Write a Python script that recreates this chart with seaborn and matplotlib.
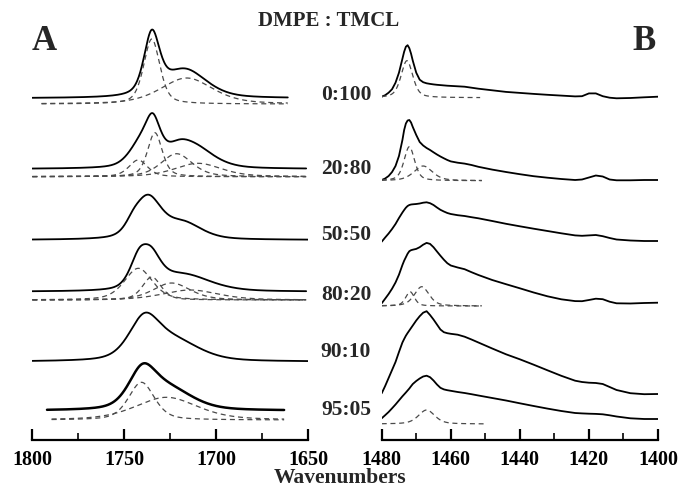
import numpy as np
import pandas as pd
import seaborn as sns
import matplotlib
matplotlib.use("Agg")
import matplotlib.pyplot as plt
from matplotlib.ticker import MultipleLocator

# sample ratios (DMPE : TMCL)
ratios = ["0:100", "20:80", "50:50", "80:20", "90:10", "95:05"]

# panel A (C=O stretch): bands as (centre cm-1, height, half width)
a_bands = {
    "0:100": [(1735, 59, 5), (1717, 28, 14)],
    "20:80": [(1734.5, 40, 5), (1742, 20, 7), (1720, 19, 10), (1709, 14, 12)],
    "50:50": [(1737, 40, 8.5), (1745, 8, 5), (1718, 16, 12)],
    "80:20": [(1742, 28, 6), (1735, 27, 6.5), (1722, 8, 12), (1712, 10, 16)],
    "90:10": [(1739, 40, 10), (1722, 19, 16)],
    "95:05": [(1740, 37, 9), (1725, 20, 15)],
}
a_range = {"0:100": (1800, 1661), "20:80": (1800, 1651), "50:50": (1800, 1650),
           "80:20": (1800, 1651), "90:10": (1800, 1650), "95:05": (1792, 1663)}
a_offset = {"0:100": 341.7, "20:80": 271, "50:50": 200,
            "80:20": 148.3, "90:10": 78.3, "95:05": 29.3}

# fitted components (dashed)
a_fit = {
    "0:100": [(1735, 65, 5.2), (1716, 26, 16.7)],
    "20:80": [(1733.3, 44, 4.7), (1742.4, 16.7, 6), (1721.5, 23, 10), (1709.8, 13.4, 15)],
    "80:20": [(1742.3, 31.7, 9), (1735, 23, 6), (1724.2, 17, 12), (1714, 10, 18)],
    "95:05": [(1740.6, 37.7, 8.3), (1727, 22.7, 20)],
}
a_fit_range = {"0:100": (1795, 1661), "20:80": (1800, 1651),
               "80:20": (1800, 1651), "95:05": (1789.5, 1663)}
a_fit_offset = {"0:100": 336, "20:80": 263.3, "80:20": 140, "95:05": 20}

# panel B (CH2 scissoring): traces
b_wn = [1480, 1479, 1478, 1477, 1476, 1475, 1474, 1473.5, 1473, 1472.5, 1472, 1471.5,
        1471, 1470, 1469, 1468, 1467, 1466, 1465, 1464, 1463, 1462, 1461, 1460,
        1458, 1456, 1454, 1452, 1448, 1444, 1440, 1436, 1432, 1428, 1424, 1422,
        1420, 1418, 1416, 1414, 1412, 1408, 1404, 1400]
b_0_100 = [0, 1.5, 4, 7.5, 14, 24, 38, 45, 50, 51.5, 48.5, 43,
           36, 24, 17, 14.5, 13.4, 12.8, 12.3, 11.9, 11.6, 11.3, 11, 10.8,
           10.4, 10, 9, 8, 6.4, 4.8, 3.8, 2.8, 1.9, 1.1, 0.3, 0.5,
           3.3, 3.3, 0.5, -1, -1.6, -1.3, -0.6, 0]
b_20_80 = [0, 1.5, 4, 8, 14, 24, 40, 50, 56.5, 59.5, 60, 57.5,
           53, 45, 38, 34.5, 32, 30, 27.7, 25.5, 23.5, 21.7, 20, 18.6,
           17.3, 16.4, 15, 13.2, 10.4, 8, 5.8, 3.8, 2.3, 1, 0, 0.5,
           2.5, 4.5, 3.5, 0.5, -0.3, -0.3, 0, 0]
b_50_50 = [-0.7, 3.5, 7.5, 12, 17, 23, 28.5, 31, 33.3, 35, 36, 36.5,
           36.7, 37, 37.5, 38.3, 38.7, 37.8, 36, 33.5, 31.2, 29.5, 28, 27,
           25.8, 25, 23.8, 22.7, 20, 17.2, 14.7, 12.3, 10, 7.7, 5.6, 5.2,
           5.6, 6, 4.8, 3, 1.5, 0.5, 0, 0]
b_80_20 = [-0.6, 4, 8.7, 14, 20.2, 28, 37.7, 42, 45.5, 49, 51.5, 52.5,
           53, 53.8, 55.5, 58, 59.8, 58.8, 55.5, 51.2, 47, 43, 39.5, 37.2,
           35.2, 33.5, 30.5, 27.7, 22.7, 18.5, 14.4, 10.2, 6.4, 3.4, 1.6, 1.5,
           2.7, 4, 3.5, 1, -0.6, -0.8, -0.3, 0]
b_90_10 = [0.7, 8, 16, 24, 32, 42, 51.5, 55, 58.3, 61, 63.5, 66,
           68.5, 73.5, 77.8, 81.3, 82.8, 79, 74.5, 69.5, 64.5, 61.8, 60.8, 60.2,
           59.3, 57.3, 54.5, 51.5, 45.5, 39.7, 34.7, 29.3, 23.7, 18.2, 13.3, 12,
           11.3, 11, 10, 7, 4, 0.8, -0.2, 0]
b_95_05 = [0.7, 3.8, 7, 10.7, 14.5, 18.6, 22.7, 24.6, 26.5, 28.5, 30.5, 32.8,
           35, 38, 40.5, 42.5, 43.3, 41.8, 38.5, 34.5, 31.2, 29.6, 28.8, 28.2,
           27, 26, 24.8, 23.5, 21, 18.5, 15.7, 13, 10.4, 8, 6, 5.6,
           5.3, 5.1, 4.7, 3.7, 2.5, 0.7, 0, 0]
b_traces = {"0:100": b_0_100, "20:80": b_20_80, "50:50": b_50_50,
            "80:20": b_80_20, "90:10": b_90_10, "95:05": b_95_05}
b_offset = {"0:100": 343.3, "20:80": 260, "50:50": 199,
            "80:20": 137.3, "90:10": 46, "95:05": 21}

b_fit = {
    "0:100": [(1472.7, 37, 2.0)],
    "20:80": [(1472, 34, 1.8), (1468, 14.7, 3.2)],
    "80:20": [(1471.8, 14.3, 1.5), (1468.4, 19.3, 2.5)],
    "95:05": [(1467, 14, 2.8)],
}
b_fit_range = {"0:100": (1480, 1451.5), "20:80": (1480, 1451),
               "80:20": (1480, 1451), "95:05": (1480, 1450.5)}
b_fit_offset = {"0:100": 342.3, "20:80": 259.3, "80:20": 134, "95:05": 16}


def band(x, c, h, w, eta=0.45):
    u = (x - c) / w
    return h * (eta / (1 + u ** 2) + (1 - eta) * np.exp(-np.log(2) * u ** 2))


sns.set_style("white")
plt.rcParams["font.family"] = ["Liberation Serif", "DejaVu Serif"]
plt.rcParams["font.weight"] = "bold"

W, H = 678, 490
fig = plt.figure(figsize=(W / 100, H / 100), dpi=100)
axA = fig.add_axes([32.3 / W, 50 / H, 275.7 / W, 440 / H])
axB = fig.add_axes([381.7 / W, 50 / H, 276.3 / W, 440 / H])

solid_kw = dict(color="black", linewidth=1.3, estimator=None, sort=False, legend=False)
dash_kw = dict(color="#4a4a4a", linewidth=0.9, estimator=None, sort=False, legend=False)

for r in ratios:
    x = np.linspace(*a_range[r], 500)
    y = sum(band(x, *b) for b in a_bands[r]) + a_offset[r]
    kw = dict(solid_kw)
    if r == "95:05":
        kw["linewidth"] = 1.8
    sns.lineplot(x=x, y=y, ax=axA, **kw)
    if r in a_fit:
        xf = np.linspace(*a_fit_range[r], 500)
        for b in a_fit[r]:
            l = sns.lineplot(x=xf, y=band(xf, *b) + a_fit_offset[r], ax=axA, **dash_kw)
            l.lines[-1].set_dashes((4, 3))

    yb = np.array(b_traces[r]) + b_offset[r]
    sns.lineplot(x=b_wn, y=yb, ax=axB, **solid_kw)
    if r in b_fit:
        xf = np.linspace(*b_fit_range[r], 300)
        for b in b_fit[r]:
            l = sns.lineplot(x=xf, y=band(xf, *b) + b_fit_offset[r], ax=axB, **dash_kw)
            l.lines[-1].set_dashes((4, 3))

for ax, lim, major, minor in [(axA, (1800, 1650), 50, 25), (axB, (1480, 1400), 20, 10)]:
    ax.set_xlim(*lim)
    ax.set_ylim(0, 440)
    ax.set_facecolor("none")
    for s in ["top", "left", "right"]:
        ax.spines[s].set_visible(False)
    ax.spines["bottom"].set_linewidth(1.6)
    ax.spines["bottom"].set_color("black")
    ax.xaxis.set_major_locator(MultipleLocator(major))
    ax.xaxis.set_minor_locator(MultipleLocator(minor))
    ax.tick_params(axis="x", which="major", direction="in", length=8, width=1.6,
                   labelsize=14.5, pad=7, colors="black", bottom=True)
    ax.tick_params(axis="x", which="minor", direction="in", length=5, width=1.4,
                   bottom=True)
    ax.set_yticks([])
    ax.set_xlabel("")
    ax.set_ylabel("")
    for t in ax.get_xticklabels():
        t.set_fontweight("bold")


def ftext(px, py, s, **kw):
    fig.text(px / W, 1 - py / H, s, ha="center", va="center", fontweight="bold", **kw)


ftext(329, 21, "DMPE : TMCL", fontsize=15)
ftext(44, 41, "A", fontsize=25)
ftext(644, 42, "B", fontsize=25)
ftext(340, 478, "Wavenumbers", fontsize=15.5)
label_y = [95, 169, 235, 295, 352, 410]
for r, py in zip(ratios, label_y):
    ftext(346, py, r, fontsize=15.5)

fig.savefig("out.png", dpi=100)
